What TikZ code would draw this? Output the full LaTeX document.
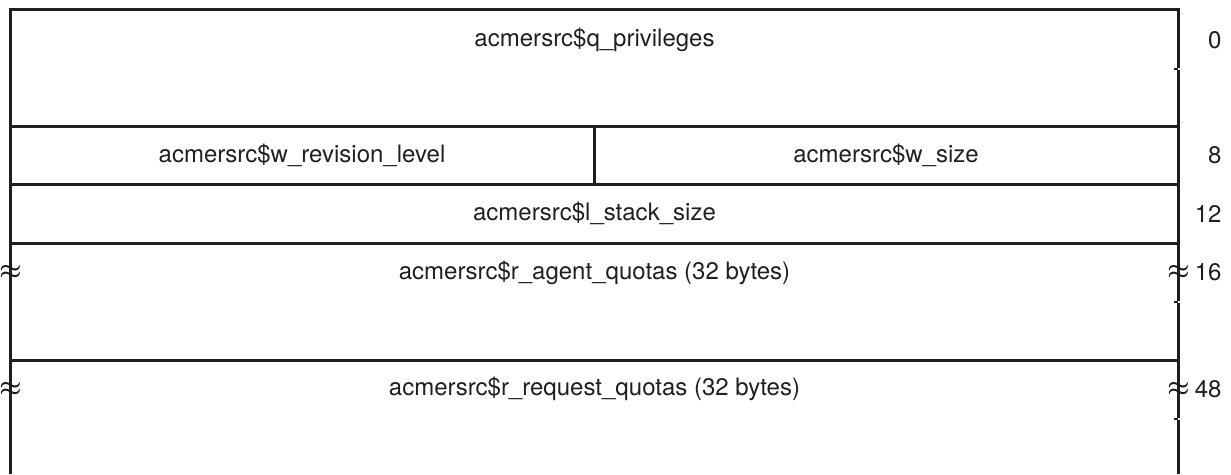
\documentclass[tikz,border=0pt]{standalone}
\usepackage{fontspec}
\setmainfont{TeX Gyre Heros}
\usetikzlibrary{positioning}

\tikzset{
  field/.style={font=\fontsize{24}{28}\selectfont, inner sep=0pt, text=black!88},
  offset/.style={field, anchor=east},
  brk/.style={font=\fontsize{27}{30}\selectfont\boldmath, inner sep=0pt, text=black!90}
}

\begin{document}
\begin{tikzpicture}[x=1pt, y=-1pt, line width=3pt, draw=black!88]

\useasboundingbox (0,0) rectangle (1231,474);

% Draw the frame
\draw[black!88] (10.5,474) -- (10.5,9.5) -- (1178.5,9.5) -- (1178.5,68);
\draw[black!88] (1178.5,70) -- (1178.5,301);
\draw[black!88] (1178.5,303) -- (1178.5,418);
\draw[black!88] (1178.5,420) -- (1178.5,474);

% Draw the ticks
\foreach \t in {68.5,301.5,418.5}
{
  \draw[black!88, line width=2pt] (1174,\t) -- (1178,\t);
}

% Draw the row lines
\foreach \r in {126,184,243,360}
{
  \draw[black!88] (10.5,\r) -- (1179.5,\r);
}
\draw[black!88] (594,126) -- (594,184);

% Fields
\node[field] (priv) at (594.5,40) {acmersrc\$q\_privileges};
\node[field] (rev) at (302,155) {acmersrc\$w\_revision\_level};
\node[field] (size) at (886,155) {acmersrc\$w\_size};
\node[field] (stack) at (594.5,213.5) {acmersrc\$l\_stack\_size};
\node[field] (agent) at (594.5,272.5) {acmersrc\$r\_agent\_quotas (32 bytes)};
\node[field] (request) at (594.5,389) {acmersrc\$r\_request\_quotas (32 bytes)};

% Offsets
\node[offset] (off0) at (1223,40) {0};
\node[offset] (off8) at (1223,155) {8};
\node[offset] (off12) at (1223,213.5) {12};
\node[offset] (off16) at (1223,272.5) {16};
\node[offset] (off48) at (1223,389) {48};

% Breaks
\node[brk] (brkLa) at (10.5,272.5) {$\approx$};
\node[brk] (brkRa) at (1178.5,272.5) {$\approx$};
\node[brk] (brkLb) at (10.5,389) {$\approx$};
\node[brk] (brkRb) at (1178.5,389) {$\approx$};

\end{tikzpicture}
\end{document}
